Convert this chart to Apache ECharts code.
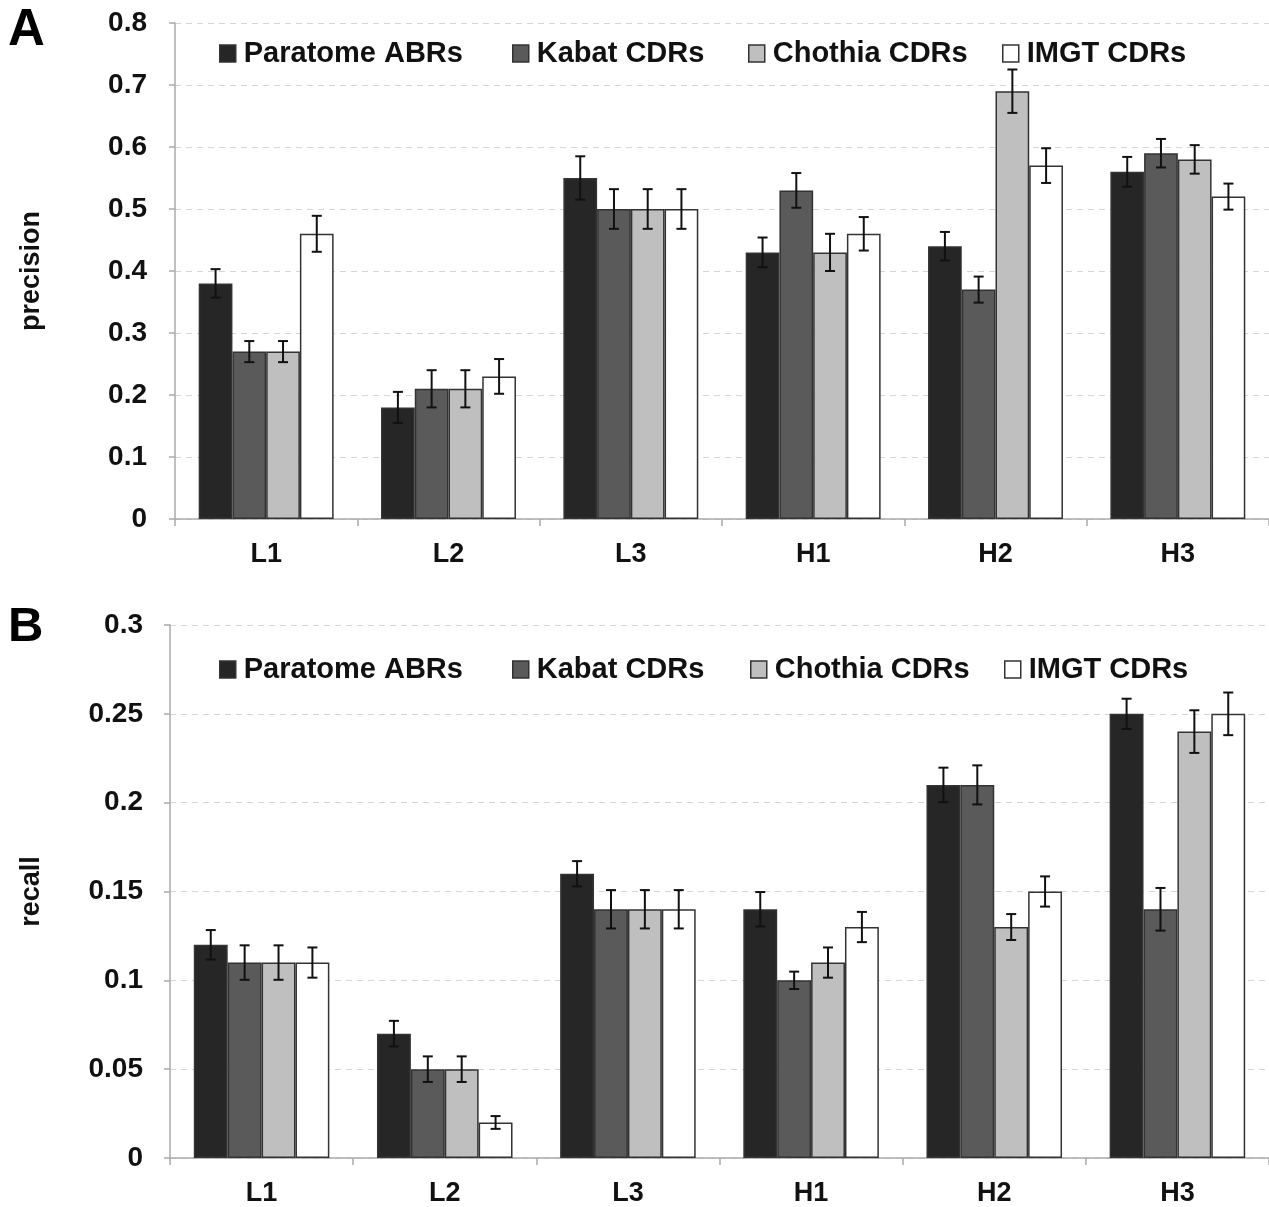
<!DOCTYPE html>
<html><head><meta charset="utf-8">
<script src="https://cdn.jsdelivr.net/npm/echarts@6/dist/echarts.min.js"></script>
<style>html,body{margin:0;padding:0;background:#fff}#c{width:1269px;height:1207px}</style>
</head><body><div id="c"></div>
<script>
const categories = ['L1','L2','L3','H1','H2','H3'];
const seriesNames = ['Paratome ABRs','Kabat CDRs','Chothia CDRs','IMGT CDRs'];
const precisionParatome = [0.38,0.18,0.55,0.43,0.44,0.56];
const precisionKabat    = [0.27,0.21,0.50,0.53,0.37,0.59];
const precisionChothia  = [0.27,0.21,0.50,0.43,0.69,0.58];
const precisionIMGT     = [0.46,0.23,0.50,0.46,0.57,0.52];
const precisionErrParatome = [0.023,0.025,0.035,0.024,0.023,0.024];
const precisionErrKabat    = [0.017,0.030,0.032,0.028,0.021,0.023];
const precisionErrChothia  = [0.017,0.030,0.032,0.030,0.035,0.023];
const precisionErrIMGT     = [0.029,0.028,0.032,0.027,0.028,0.021];
const recallParatome = [0.12,0.07,0.16,0.14,0.21,0.25];
const recallKabat    = [0.11,0.05,0.14,0.10,0.21,0.14];
const recallChothia  = [0.11,0.05,0.14,0.11,0.13,0.24];
const recallIMGT     = [0.11,0.02,0.14,0.13,0.15,0.25];
const recallErrParatome = [0.0083,0.0072,0.0071,0.0097,0.0097,0.0085];
const recallErrKabat    = [0.0097,0.0072,0.0108,0.0049,0.011,0.012];
const recallErrChothia  = [0.0097,0.0072,0.0108,0.0085,0.0073,0.012];
const recallErrIMGT     = [0.0085,0.0036,0.0108,0.0085,0.0085,0.012];
const precisionTicks = {min:0,max:0.8,interval:0.1};
const recallTicks = {min:0,max:0.3,interval:0.05};

const colors = ['#262626','#5a5a5a','#bfbfbf','#ffffff'];
const font = 'Liberation Sans, Arial, sans-serif';
const catGap = 0.26;

const precVals = [precisionParatome,precisionKabat,precisionChothia,precisionIMGT];
const precErrs = [precisionErrParatome,precisionErrKabat,precisionErrChothia,precisionErrIMGT];
const recVals = [recallParatome,recallKabat,recallChothia,recallIMGT];
const recErrs = [recallErrParatome,recallErrKabat,recallErrChothia,recallErrIMGT];

function makeErr(vals, errs, idx, gi){
  return {
    type:'custom', xAxisIndex:gi, yAxisIndex:gi, z:10, silent:true,
    data: vals.map((v,i)=>[i, v-errs[i], v+errs[i]]),
    renderItem:function(params, api){
      const cw = api.size([1,0])[0];
      const bw = cw*(1-catGap)/4;
      const off = (idx-1.5)*bw;
      const lo = api.coord([api.value(0), api.value(1)]);
      const hi = api.coord([api.value(0), api.value(2)]);
      const x = lo[0]+off, cap = 5;
      const st = {stroke:'#111', lineWidth:2};
      return {type:'group', children:[
        {type:'line', shape:{x1:x,y1:hi[1],x2:x,y2:lo[1]}, style:st},
        {type:'line', shape:{x1:x-cap,y1:hi[1],x2:x+cap,y2:hi[1]}, style:st},
        {type:'line', shape:{x1:x-cap,y1:lo[1],x2:x+cap,y2:lo[1]}, style:st}
      ]};
    }
  };
}

const series = [];
[[precVals,precErrs,0],[recVals,recErrs,1]].forEach(([vals,errs,gi])=>{
  vals.forEach((v,k)=>{
    series.push({type:'bar', name:seriesNames[k], xAxisIndex:gi, yAxisIndex:gi,
      data:v, barGap:'0%', barCategoryGap:(catGap*100)+'%',
      itemStyle:{color:colors[k], borderColor:'#333', borderWidth:1.5}});
  });
  vals.forEach((v,k)=>series.push(makeErr(v, errs[k], k, gi)));
});

const legendXA = [219, 512, 748, 1002];
const legendXB = [219, 512, 750, 1004];
const legends = [];
[[52, legendXA], [668, legendXB]].forEach(([t, xs])=>{
  seriesNames.forEach((n,k)=>{
    legends.push({data:[n], left:xs[k], top:t-13, itemWidth:16, itemHeight:17, itemGap:0,
      selectedMode:false, icon:'rect', padding:0,
      itemStyle:{borderColor:'#333', borderWidth:1.5},
      textStyle:{fontFamily:font, fontWeight:'bold', fontSize:29, color:'#111', padding:[0,0,0,3]}});
  });
});

function xAxis(gi){
  return {type:'category', gridIndex:gi, data:categories,
    axisLine:{lineStyle:{color:'#aaa', width:1.5}},
    axisTick:{show:true, length:7, lineStyle:{color:'#aaa', width:1.5}},
    axisLabel:{fontFamily:font, fontWeight:'bold', fontSize:27, color:'#111', margin:22}};
}
function yAxis(gi, t, name){
  return {type:'value', gridIndex:gi, min:t.min, max:t.max, interval:t.interval,
    name:name, nameLocation:'middle', nameGap:gi===0?130:125, nameRotate:90,
    nameTextStyle:{fontFamily:font, fontWeight:'bold', fontSize:27, color:'#111'},
    axisLine:{show:true, lineStyle:{color:'#aaa', width:1.5}},
    axisTick:{show:true, length:6, lineStyle:{color:'#aaa', width:1.5}},
    splitLine:{show:true, lineStyle:{color:'#d6d6d6', type:[6,5], width:1.2}},
    axisLabel:{fontFamily:font, fontWeight:'bold', fontSize:28, color:'#111', margin:gi===0?28:27,
      formatter:v=>String(+v.toFixed(2))}};
}

const chart = echarts.init(document.getElementById('c'), null, {renderer:'canvas'});
chart.setOption({
  animation:false,
  backgroundColor:'#fff',
  grid:[{left:175, top:23, right:0, bottom:688, containLabel:false},
        {left:170, top:625, right:0, bottom:49, containLabel:false}],
  xAxis:[xAxis(0), xAxis(1)],
  yAxis:[yAxis(0, precisionTicks, 'precision'), yAxis(1, recallTicks, 'recall')],
  legend:legends,
  graphic:[
    {type:'text', left:8, top:5, style:{text:'A', fontFamily:font, fontWeight:'bold', fontSize:51, fill:'#000'}},
    {type:'text', left:8, top:603, style:{text:'B', fontFamily:font, fontWeight:'bold', fontSize:49, fill:'#000'}}
  ],
  series:series
});
</script></body></html>
